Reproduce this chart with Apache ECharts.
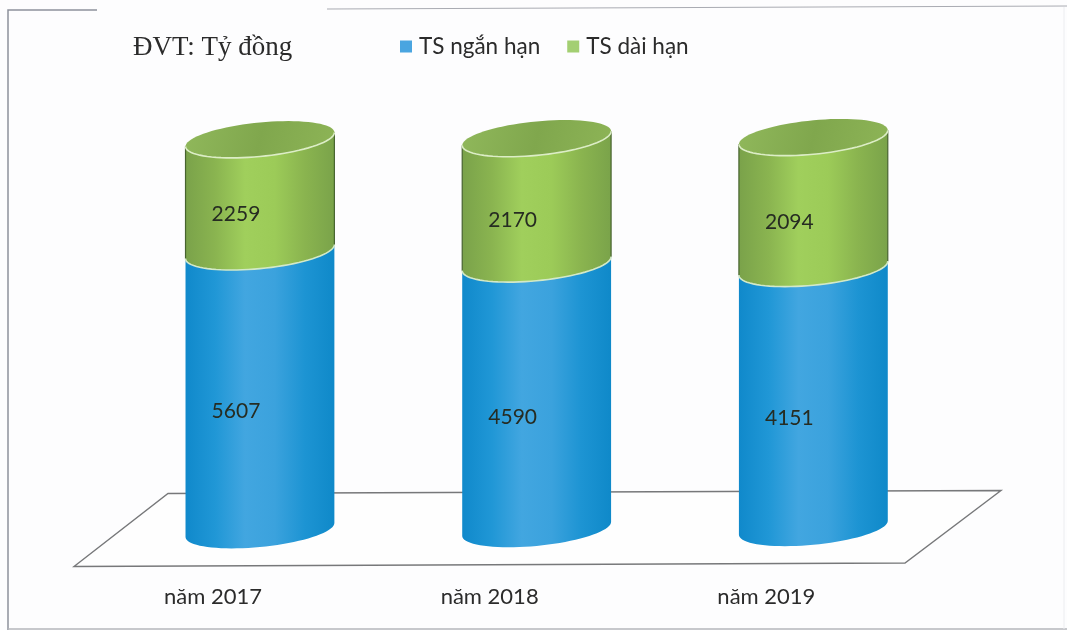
<!DOCTYPE html>
<html>
<head>
<meta charset="utf-8">
<style>
  html, body { margin: 0; padding: 0; background: #fdfdfe; }
  #chart-container { width: 1067px; height: 630px; }
</style>
<script src="https://cdn.jsdelivr.net/npm/echarts@6/dist/echarts.min.js"></script>
</head>
<body>
<div id="chart-container"></div>
<script>
const years = ["năm 2017", "năm 2018", "năm 2019"];
const shortTerm = [5607, 4590, 4151];
const longTerm = [2259, 2170, 2094];
const seriesNames = ["TS ngắn hạn", "TS dài hạn"];

const chart = echarts.init(document.getElementById("chart-container"));
const labelFont = "Lato, 'Noto Sans', sans-serif";

// Columns are 100% stacked: each one fills the axis from 0 to 1
const totals = years.map((_, i) => shortTerm[i] + longTerm[i]);
const shortData = years.map((_, i) => [i, 0, shortTerm[i] / totals[i], shortTerm[i]]);
const longData = years.map((_, i) => [i, shortTerm[i] / totals[i], 1, longTerm[i]]);

const sideFill = (stops) => ({
  type: "linear", x: 0, y: 0, x2: 1, y2: 0,
  colorStops: stops.map((c, i) => ({ offset: i / (stops.length - 1), color: c })),
});
const blueSide = sideFill(["#1089cb", "#2097d6", "#42a6e0", "#3ba2dd", "#1d94d3", "#0f89c9"]);
const greenSide = sideFill(["#7aa24a", "#8ab450", "#a0cf5c", "#9ccb58", "#8ab44f", "#7aa34a"]);
const greenCap = {
  type: "linear", x: 0, y: 0, x2: 1, y2: 1,
  colorStops: [
    { offset: 0, color: "#90b85b" },
    { offset: 0.5, color: "#80a74d" },
    { offset: 1, color: "#8db456" },
  ],
};

// front arc of the tilted ellipse, left to right
const arc = (cx, cy, a, b, s) => {
  const pts = [];
  for (let k = 0; k <= 40; k++) {
    const t = Math.PI - (Math.PI * k) / 40;
    pts.push([cx + a * Math.cos(t), cy + b * Math.sin(t) - s * Math.cos(t)]);
  }
  return pts;
};
const backArc = (cx, cy, a, b, s) => arc(cx, cy, a, -b, s);

const cylinder = (fill, isTop) => (params, api) => {
  const idx = api.value(0);
  const low = api.coord([idx, api.value(1)]);
  const high = api.coord([idx, api.value(2)]);
  const a = (api.size([1, 0])[0] * 0.538) / 2;
  const b = 17;
  const s = 7;
  const cx = low[0];
  const drift = (cx - 260) * -0.004; // the scan sits slightly rotated
  const yLow = low[1] + drift;
  const yHigh = high[1] + drift;
  const bottomArc = arc(cx, yLow, a, b, s);
  const topArc = arc(cx, yHigh, a, b, s);
  const children = [
    {
      type: "polygon",
      shape: { points: bottomArc.concat(topArc.slice().reverse()) },
      style: { fill },
    },
  ];
  if (isTop) {
    children.push({
      type: "polyline",
      shape: { points: [bottomArc[0], topArc[0]] },
      style: { stroke: "#47632f", lineWidth: 1.2, fill: null },
    });
    children.push({
      type: "polyline",
      shape: { points: [bottomArc[40], topArc[40]] },
      style: { stroke: "#47632f", lineWidth: 1.2, fill: null },
    });
    children.push({
      type: "polygon",
      shape: { points: topArc.concat(backArc(cx, yHigh, a, b, s).reverse()) },
      style: { fill: greenCap },
    });
    children.push({
      type: "polyline",
      shape: { points: topArc },
      style: { stroke: "#dcedc6", lineWidth: 1.6, fill: null },
    });
    children.push({
      type: "polyline",
      shape: { points: bottomArc },
      style: { stroke: "#d3e9c8", lineWidth: 1.6, fill: null },
    });
  }
  children.push({
    type: "text",
    x: cx - 24,
    y: (yLow + yHigh) / 2 + (isTop ? 19 : 20.5),
    style: {
      text: String(api.value(3)),
      font: "21px " + labelFont,
      fill: "#262c22",
      align: "center",
      verticalAlign: "middle",
    },
  });
  return { type: "group", children };
};

const option = {
  animation: false,
  backgroundColor: "#fdfdfe",
  title: {
    text: "ĐVT: Tỷ đồng",
    left: 133,
    top: 34,
    padding: 0,
    textStyle: { fontFamily: "'Liberation Serif', serif", fontSize: 27, fontWeight: "normal", color: "#2b2b2b" },
  },
  legend: {
    left: 400,
    top: 35,
    padding: 0,
    itemWidth: 12,
    itemHeight: 12,
    itemGap: 27,
    icon: "rect",
    data: seriesNames,
    textStyle: { fontFamily: labelFont, fontSize: 22.5, color: "#2b2b2b", padding: [0, 0, 0, 2] },
  },
  grid: { left: 121.6, right: 115.3, top: 139.5, bottom: 100 },
  xAxis: {
    type: "category",
    data: years,
    axisLine: { show: false },
    axisTick: { show: false },
    axisLabel: {
      margin: 56,
      padding: [0, 94, 0, 0],
      fontFamily: labelFont,
      fontSize: 22,
      color: "#2b2b2b",
    },
  },
  yAxis: { type: "value", min: 0, max: 1, show: false },
  // scan frame and the floor plane of the 3D chart
  graphic: [
    { type: "polyline", z: 0, shape: { points: [[97, 10], [8, 10], [8, 630]] }, style: { stroke: "#8d919c", lineWidth: 1.5, fill: null } },
    { type: "line", z: 0, shape: { x1: 327, y1: 9, x2: 1067, y2: 6 }, style: { stroke: "#a9abb2", lineWidth: 1 } },
    { type: "line", z: 0, shape: { x1: 8, y1: 629, x2: 1067, y2: 629 }, style: { stroke: "#b4b6bb", lineWidth: 1.5 } },
    { type: "line", z: 0, shape: { x1: 1064, y1: 7, x2: 1064, y2: 629 }, style: { stroke: "#ecedf0", lineWidth: 1 } },
    {
      type: "polygon",
      z: 0,
      shape: { points: [[74, 566.5], [168, 493.5], [1001, 490.5], [905, 563]] },
      style: { fill: "#fefefe", stroke: "#77787a", lineWidth: 1.4 },
    },
  ],
  series: [
    {
      name: seriesNames[0],
      type: "custom",
      coordinateSystem: "cartesian2d",
      itemStyle: { color: "#4aa5e0" },
      renderItem: cylinder(blueSide, false),
      encode: { x: 0, y: [1, 2] },
      data: shortData,
    },
    {
      name: seriesNames[1],
      type: "custom",
      coordinateSystem: "cartesian2d",
      itemStyle: { color: "#a3cf72" },
      renderItem: cylinder(greenSide, true),
      encode: { x: 0, y: [1, 2] },
      data: longData,
    },
  ],
};
chart.setOption(option);
</script>
</body>
</html>
